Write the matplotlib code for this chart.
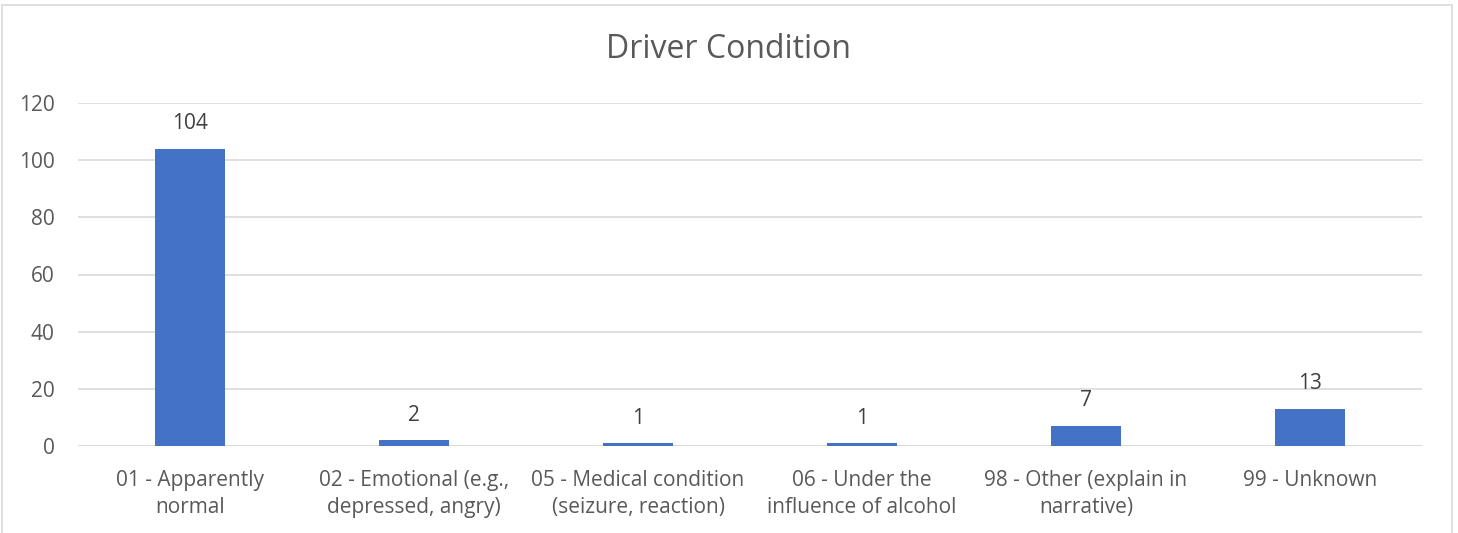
import matplotlib
matplotlib.use('Agg')
import matplotlib.pyplot as plt
from matplotlib.patches import Rectangle

categories = ['01 - Apparently\nnormal',
              '02 - Emotional (e.g.,\ndepressed, angry)',
              '05 - Medical condition\n(seizure, reaction)',
              '06 - Under the\ninfluence of alcohol',
              '98 - Other (explain in\nnarrative)',
              '99 - Unknown']
counts = [104, 2, 1, 1, 7, 13]
y_ticks = [0, 20, 40, 60, 80, 100, 120]

plt.rcParams['font.family'] = ['Open Sans', 'DejaVu Sans']

fig = plt.figure(figsize=(14.58, 5.33), dpi=100)
fig.patch.set_facecolor('white')
fig.patches.append(Rectangle((2 / 1458, -0.05), 1450 / 1458, 1.05 - 5 / 533,
                             transform=fig.transFigure, fill=False,
                             edgecolor='#D9D9D9', lw=1.2))

ax = fig.add_axes([78 / 1458, 1 - 446 / 533, (1422 - 78) / 1458, (446 - 103) / 533])
x = range(len(categories))
bars = ax.bar(x, counts, width=0.31, color='#4472C4', zorder=3)
for b, v in zip(bars, counts):
    ax.annotate(str(v), (b.get_x() + b.get_width() / 2, v), xytext=(0, 25),
                textcoords='offset pixels', ha='center', va='center',
                fontsize=15, color='#404040')

ax.set_xlim(-0.5, len(categories) - 0.5)
ax.set_ylim(0, 120)
ax.set_yticks(y_ticks)
ax.yaxis.grid(True, color='#D9D9D9', lw=1.2, zorder=0)
ax.set_xticks(list(x))
ax.set_xticklabels(categories, fontsize=15, color='#595959', linespacing=1.42)
ax.tick_params(axis='y', labelsize=15, labelcolor='#595959', length=0, pad=17)
ax.tick_params(axis='x', length=0, pad=17)
for s in ax.spines.values():
    s.set_visible(False)
ax.axhline(0, color='#D9D9D9', lw=1.2, zorder=2)

fig.text(0.5, 1 - 50 / 533, 'Driver Condition', ha='center', va='center',
         fontsize=23, color='#595959')

fig.savefig('out.png', dpi=100, facecolor='white')
